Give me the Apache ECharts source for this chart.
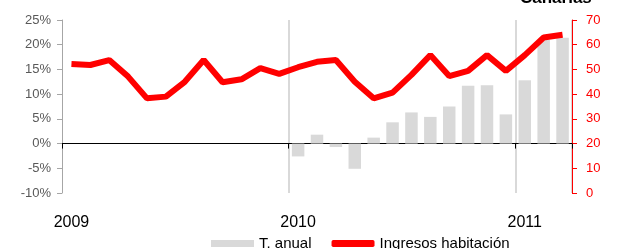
<!DOCTYPE html>
<html>
<head>
<meta charset="utf-8">
<script src="https://cdn.jsdelivr.net/npm/echarts@6/dist/echarts.min.js"></script>
<style>html,body{margin:0;padding:0;background:#fff}#c{width:643px;height:249px}</style>
</head>
<body>
<div id="c"></div>
<script>
var months = ['2009-01','2009-02','2009-03','2009-04','2009-05','2009-06','2009-07','2009-08','2009-09','2009-10','2009-11','2009-12',
  '2010-01','2010-02','2010-03','2010-04','2010-05','2010-06','2010-07','2010-08','2010-09','2010-10','2010-11','2010-12',
  '2011-01','2011-02','2011-03'];
var yearLabels = ['2009','2010','2011'];
var tAnual = [null,null,null,null,null,null,null,null,null,null,null,null,
  -2.6,1.8,-0.7,-5.1,1.2,4.3,6.3,5.4,7.5,11.7,11.8,5.9,
  12.8,21.0,21.4];
var ingresos = [52.2,51.8,53.8,47.1,38.3,39.0,45.0,53.8,44.8,46.0,50.5,48.2,
  50.9,53.1,53.8,45.0,38.3,40.6,47.8,55.8,47.3,49.4,55.8,49.4,
  55.8,62.9,64.0];
var leftTicks = {min:-10, max:25, interval:5};
var rightTicks = {min:0, max:70, interval:10};

var chart = echarts.init(document.getElementById('c'));
var FONT = '"Liberation Sans", Arial, sans-serif';
var yearIdx = function(i){return i % 12 === 0;};
chart.setOption({
  animation: false,
  textStyle: {fontFamily: FONT},
  graphic: [{
    type: 'text', x: 520, y: 7,
    style: {text: 'Canarias', font: 'bold 17px ' + FONT, fill: '#000', verticalAlign: 'bottom'}
  }],
  legend: {
    left: 206, top: 231, itemGap: 20, itemWidth: 43, itemHeight: 7,
    textStyle: {fontSize: 15, color: '#000', fontFamily: FONT},
    data: [
      {name: 'T. anual', icon: 'rect'},
      {name: 'Ingresos habitación', icon: 'roundRect'}
    ]
  },
  grid: {left: 62, right: 71, top: 20, bottom: 56, containLabel: false, outerBoundsMode: 'none'},
  xAxis: [{
    type: 'category', data: months, boundaryGap: true, position: 'bottom',
    axisLine: {onZero: true, lineStyle: {color: '#000', width: 1}},
    axisTick: {show: true, length: 5, interval: yearIdx, lineStyle: {color: '#000'}},
    axisLabel: {show: false},
    splitLine: {show: true, interval: function(i){return i > 0 && i % 12 === 0;}, lineStyle: {color: '#d9d9d9', width: 2}}
  }, {
    type: 'category', data: months, boundaryGap: true, position: 'bottom',
    axisLine: {show: false, onZero: false},
    axisTick: {show: false},
    axisLabel: {
      show: true,
      interval: yearIdx,
      formatter: function(v){return v.slice(0,4);},
      margin: 22, fontSize: 16, color: '#000', fontFamily: FONT
    },
    splitLine: {show: false}
  }],
  yAxis: [{
    type: 'value', min: leftTicks.min, max: leftTicks.max, interval: leftTicks.interval,
    axisLine: {show: true, lineStyle: {color: '#a6a6a6'}},
    axisTick: {show: true, length: 5, lineStyle: {color: '#a6a6a6'}},
    axisLabel: {formatter: '{value}%', fontSize: 13, color: '#595959', margin: 11, fontFamily: FONT},
    splitLine: {show: false}
  }, {
    type: 'value', min: rightTicks.min, max: rightTicks.max, interval: rightTicks.interval,
    position: 'right',
    axisLine: {show: true, lineStyle: {color: '#ff0000'}},
    axisTick: {show: true, length: 5, lineStyle: {color: '#ff0000'}},
    axisLabel: {fontSize: 13, color: '#ff0000', margin: 14, fontFamily: FONT},
    splitLine: {show: false}
  }],
  series: [{
    name: 'T. anual', type: 'bar', xAxisIndex: 0, yAxisIndex: 0, data: tAnual,
    barWidth: 12.5, itemStyle: {color: '#d9d9d9'}, z: 1
  }, {
    name: 'Ingresos habitación', type: 'line', xAxisIndex: 0, yAxisIndex: 1, data: ingresos,
    showSymbol: false, symbol: 'none', lineStyle: {color: '#ff0000', width: 6}, itemStyle: {color: '#ff0000'}, z: 3
  }]
});
</script>
</body>
</html>
